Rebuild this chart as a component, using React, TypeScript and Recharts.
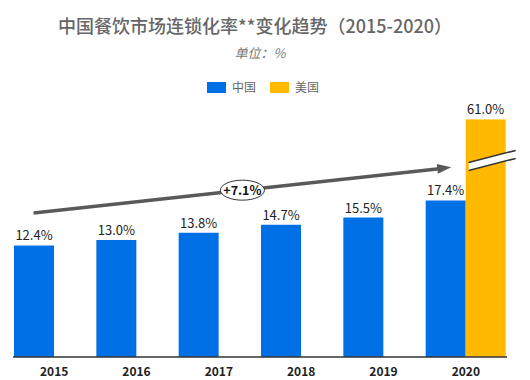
import { BarChart, Bar, XAxis, YAxis, LabelList, ReferenceLine } from "recharts"

const YEARS = ["2015", "2016", "2017", "2018", "2019", "2020"]
const CHINA = [12.4, 13.0, 13.8, 14.7, 15.5, 17.4]
const USA: (number | null)[] = [null, null, null, null, null, 61.0]

// trend arrow (in axis units) and its tag
const TREND_FROM = 16.0
const TREND_TO = 21.0
const TREND_LABEL = "+7.1%"

const AXIS_MAX = 30
// bars above this value are cut with a break mark
const BREAK_CAP = 26.4

const BLUE = "#0070E6"
const YELLOW = "#FFB900"
const FONT = '"Noto Sans CJK SC", "Noto Sans", sans-serif'

const data = YEARS.map((year, i) => ({
  year,
  china: CHINA[i],
  usa: USA[i] == null ? null : Math.min(USA[i] as number, BREAK_CAP),
  usaReal: USA[i],
}))

const pct = (v: any) => (v == null || v === "" ? "" : `${Number(v).toFixed(1)}%`)

function BrokenBar(props: any) {
  const { x, y, width, height, fill } = props
  if (!height) return null
  const by = y + 43
  const xr = x + width + 10
  return (
    <g>
      <rect x={x} y={y} width={width} height={height} fill={fill} />
      <polygon points={`${x + 3},${by} ${xr},${by - 12} ${xr},${by - 4} ${x + 3},${by + 8}`} fill="#fff" />
      <line x1={x + 3} y1={by} x2={xr} y2={by - 12} stroke="#333" strokeWidth={1.5} />
      <line x1={x + 3} y1={by + 8} x2={xr} y2={by - 4} stroke="#333" strokeWidth={1.5} />
    </g>
  )
}

function TrendArrow(props: any) {
  const { x1, y1, x2, y2 } = props
  if (x1 == null) return null
  // arrow sits over the China bars, a quarter band left of the category centre
  const shift = (x2 - x1) / (YEARS.length - 1) / 4
  const sx = x1 - shift
  const ex = x2 - shift
  const dx = ex - sx
  const dy = y2 - y1
  const len = Math.hypot(dx, dy)
  const ux = dx / len
  const uy = dy / len
  const tipX = ex + ux * 6
  const tipY = y2 + uy * 6
  const baseX = tipX - ux * 14
  const baseY = tipY - uy * 14
  const px = -uy * 5
  const py = ux * 5
  const mx = (sx + ex) / 2 + 3
  const my = y1 + (dy * (mx - sx)) / dx
  return (
    <g>
      <line x1={sx} y1={y1} x2={baseX + ux * 2} y2={baseY + uy * 2} stroke="#595959" strokeWidth={3.5} />
      <polygon
        points={`${tipX},${tipY} ${baseX + px},${baseY + py} ${baseX - px},${baseY - py}`}
        fill="#595959"
      />
      <ellipse cx={mx} cy={my} rx={22} ry={10} fill="#fff" stroke="#333" strokeWidth={1} />
      <text x={mx} y={my + 4.5} textAnchor="middle" fontSize={12.5} fontWeight="bold" fill="#111" fontFamily={FONT}>
        {TREND_LABEL}
      </text>
    </g>
  )
}

function LegendBox() {
  const items = [
    { name: "中国", color: BLUE },
    { name: "美国", color: YELLOW },
  ]
  return (
    <div style={{ display: "flex", justifyContent: "center", gap: 14, fontFamily: FONT, fontSize: 12, color: "#666" }}>
      {items.map((it) => (
        <div key={it.name} style={{ display: "flex", alignItems: "center" }}>
          <span style={{ width: 19, height: 11, background: it.color, display: "inline-block", marginRight: 6 }} />
          <span>{it.name}</span>
        </div>
      ))}
    </div>
  )
}

export default function App() {
  return (
    <div style={{ position: "absolute", left: 0, top: 0, width: 530, height: 380, background: "#fff", fontFamily: FONT }}>
      <div
        style={{
          position: "absolute",
          top: 13,
          left: 0,
          width: 510,
          textAlign: "center",
          fontSize: 18,
          lineHeight: "24px",
          fontWeight: 500,
          color: "#666",
        }}
      >
        中国餐饮市场连锁化率**变化趋势（2015-2020）
      </div>
      <div
        style={{
          position: "absolute",
          top: 44,
          left: 0,
          width: 520,
          textAlign: "center",
          fontSize: 13,
          lineHeight: "18px",
          fontStyle: "italic",
          color: "#777",
        }}
      >
        单位：%
      </div>
      <div style={{ position: "absolute", top: 78, left: 0, width: 526, lineHeight: "18px" }}>
        <LegendBox />
      </div>
      <div style={{ position: "absolute", top: 0, left: 0 }}>
        <BarChart
          width={530}
          height={380}
          data={data}
          margin={{ top: 87, right: 23, bottom: 3, left: 13 }}
          barCategoryGap={1}
          barGap={0}
        >
          <XAxis
            dataKey="year"
            tickLine={false}
            axisLine={{ stroke: "#333", strokeWidth: 1.5 }}
            tick={{ fill: "#222", fontSize: 12, fontWeight: 600, fontFamily: FONT }}
            tickMargin={4}
            height={20}
          />
          <YAxis hide domain={[0, AXIS_MAX]} />
          <Bar dataKey="china" name="中国" fill={BLUE} isAnimationActive={false}>
            <LabelList dataKey="china" position="top" offset={5} formatter={pct} fill="#222" fontSize={13} fontFamily={FONT} />
          </Bar>
          <Bar dataKey="usa" name="美国" fill={YELLOW} shape={<BrokenBar />} isAnimationActive={false}>
            <LabelList dataKey="usaReal" position="top" offset={5} formatter={pct} fill="#222" fontSize={13} fontFamily={FONT} />
          </Bar>
          <ReferenceLine
            segment={[
              { x: YEARS[0], y: TREND_FROM },
              { x: YEARS[YEARS.length - 1], y: TREND_TO },
            ]}
            shape={<TrendArrow />}
          />
        </BarChart>
      </div>
    </div>
  )
}
